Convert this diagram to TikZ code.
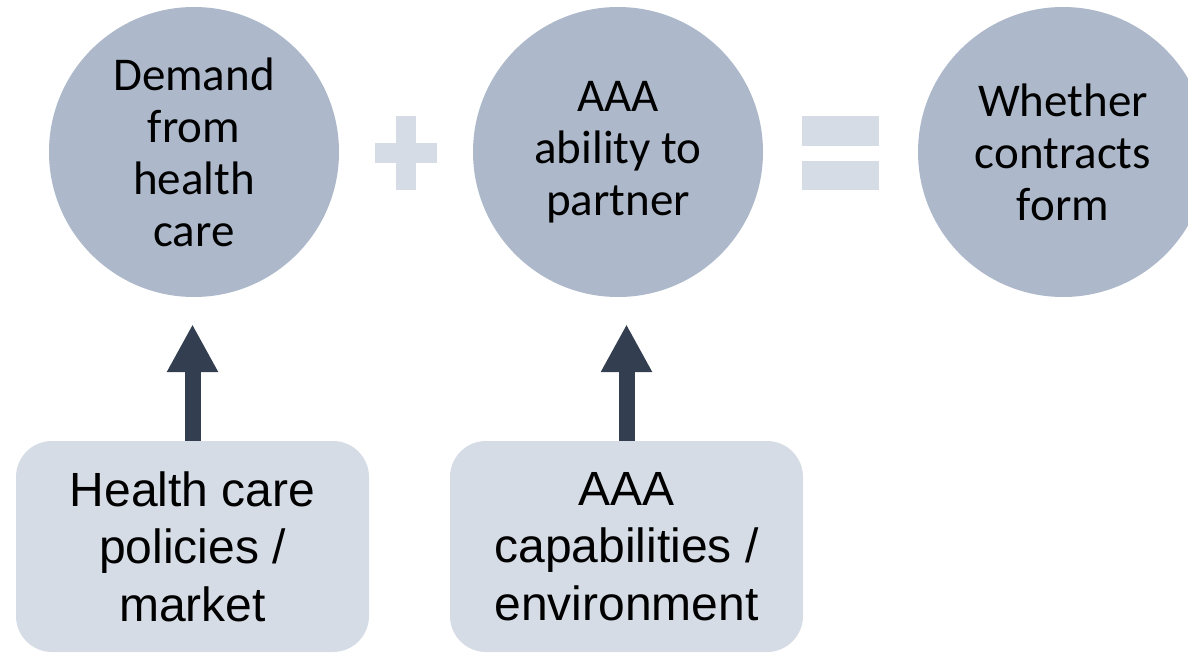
\documentclass[tikz,border=0pt]{standalone}
\usepackage{fontspec}
\setmainfont{Liberation Sans}
\newfontfamily\circfont{Carlito}
\usepackage{xcolor}
\usetikzlibrary{shapes,arrows,positioning,calc,arrows.meta}

\definecolor{circfill}{HTML}{ADB9CA}
\definecolor{boxfill}{HTML}{D6DCE5}
\definecolor{arrowdark}{HTML}{333F50}

\tikzset{
  factor/.style={circle, fill=circfill, minimum size=290pt, inner sep=0pt, align=center,
    font=\circfont\fontsize{47}{52}\selectfont},
  driver/.style={rectangle, rounded corners=36pt, fill=boxfill, minimum width=353pt,
    minimum height=211pt, inner sep=0pt, align=center, font=\fontsize{48}{57.5}\selectfont},
  push/.style={line width=16pt, draw=arrowdark, -{Triangle[width=48pt,length=48pt]}, shorten >=27pt}
}

\begin{document}
\begin{tikzpicture}[x=1pt,y=-1pt]
    \useasboundingbox (0,0) rectangle (1188,653);

    % Circles
    \node[factor] (demand) at (194,152) {Demand\\from\\health\\care};
    \node[factor] (ability) at (618,152) {AAA\\ability to\\partner};
    \node[factor] (contracts) at (1063,152) {Whether\\contracts\\form};

    % Plus sign
    \fill[boxfill] (375,143) rectangle (437,163);
    \fill[boxfill] (396,116) rectangle (416,190);

    % Equals sign
    \fill[boxfill] (802,116) rectangle (879,146);
    \fill[boxfill] (802,161) rectangle (879,190);

    % Driver boxes
    \node[driver] (policies) at (192.5,546.5) {Health care\\policies /\\market};
    \node[driver] (capab) at (626.5,546.5) {AAA\\capabilities /\\environment};

    % Arrows
    \draw[push] (policies.north) -- (policies.north |- demand.south);
    \draw[push] (capab.north) -- (capab.north |- ability.south);
\end{tikzpicture}
\end{document}
